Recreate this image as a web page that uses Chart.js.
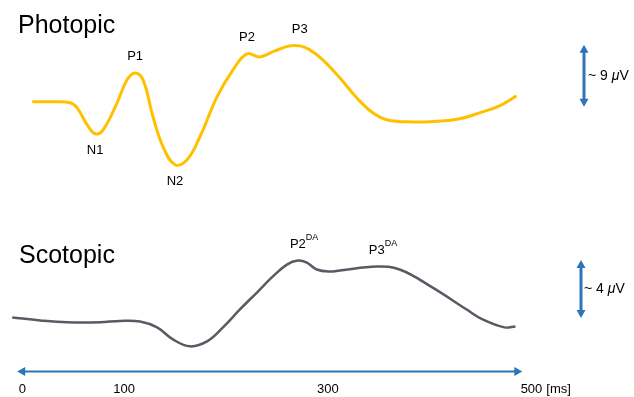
<!DOCTYPE html>
<html>
<head>
<meta charset="utf-8">
<script src="https://cdn.jsdelivr.net/npm/chart.js@4.4.1/dist/chart.umd.min.js"></script>
<style>
  html, body { margin: 0; padding: 0; background: #fff; }
</style>
</head>
<body>
<canvas id="ergChart" width="634" height="397"></canvas>
<script>
// photopic trace (ms, µV)
const photopicMs = [9.8, 30.4, 47.1, 53.9, 63.7, 71.6, 79.4, 93.1, 102.9, 110.8, 118.6, 128.4, 138.2, 150, 161.8,
  174.5, 191.2, 206.9, 220.6, 233.3, 248, 262.7, 272.5, 282.4, 295.1, 311.8, 328.4, 344.1, 357.8, 377.5, 400,
  429.4, 452, 468.6, 485.3];
const photopicUv = [0, 0, -0.14, -0.87, -3.33, -4.64, -4.06, -0.14, 3.19, 4.2, 3.19, -2.17, -6.52, -9.13, -8.41,
  -5.07, 0.72, 4.64, 6.96, 6.52, 7.39, 8.12, 8.12, 7.54, 6.09, 3.48, 0.58, -1.59, -2.61, -2.9, -2.9,
  -2.46, -1.45, -0.58, 0.87];

// scotopic trace (ms, µV)
const scotopicMs = [-9.8, 17.6, 44.1, 76.5, 96, 115.7, 132.4, 148, 164.7, 181.4, 197.1, 213.7, 230.4, 246.1, 259.8,
  270.6, 279.4, 289.2, 302, 311.8, 348, 370.6, 403, 436, 452, 473.5, 484.3];
const scotopicUv = [0.14, -0.07, -0.2, -0.2, -0.1, -0.14, -0.55, -1.38, -1.86, -1.52, -0.55, 0.69, 1.86, 2.97, 3.79,
  4.07, 3.93, 3.45, 3.31, 3.38, 3.66, 3.45, 2.2, 0.7, 0, -0.55, -0.48];

const timeTicks = [0, 100, 300, 500];
const timeArrowMs = [-5, 491];

const photopicPeaks = ['N1', 'P1', 'N2', 'P2', 'P3'];
const photopicPeakMs = [71.6, 110.8, 150, 220.6, 272.5];
const scotopicPeaks = ['P2', 'P3'];
const scotopicPeakMs = [270.6, 348];

const photopicBarUv = [-0.7, 8.3];
const scotopicBarUv = [0.1, 4.1];

const FONT = '"Liberation Sans", Arial, sans-serif';
const BLUE = '#2E75B6';
Chart.defaults.font.family = FONT;

function toPoints(xs, ys) {
  return xs.map((x, i) => ({ x: x, y: ys[i] }));
}

function nearestIndex(xs, v) {
  let best = 0;
  xs.forEach((x, i) => { if (Math.abs(x - v) < Math.abs(xs[best] - v)) best = i; });
  return best;
}

function arrowHead(ctx, x, y, ux, uy) {
  const len = 8, half = 4.5;
  ctx.beginPath();
  ctx.moveTo(x, y);
  ctx.lineTo(x - ux * len - uy * half, y - uy * len + ux * half);
  ctx.lineTo(x - ux * len + uy * half, y - uy * len - ux * half);
  ctx.closePath();
  ctx.fill();
}

function doubleArrow(ctx, x1, y1, x2, y2, width) {
  const d = Math.hypot(x2 - x1, y2 - y1), ux = (x2 - x1) / d, uy = (y2 - y1) / d;
  ctx.strokeStyle = BLUE;
  ctx.fillStyle = BLUE;
  ctx.lineWidth = width;
  ctx.beginPath();
  ctx.moveTo(x1 + ux * 6, y1 + uy * 6);
  ctx.lineTo(x2 - ux * 6, y2 - uy * 6);
  ctx.stroke();
  arrowHead(ctx, x1, y1, -ux, -uy);
  arrowHead(ctx, x2, y2, ux, uy);
}

function drawPeaks(ctx, xScale, yScale, names, times, xs, ys, sup) {
  names.forEach((name, k) => {
    const i = nearestIndex(xs, times[k]);
    const px = xScale.getPixelForValue(xs[i]);
    const py = yScale.getPixelForValue(ys[i]);
    const below = name[0] === 'N';
    const ty = below ? py + 17 : py - 16;
    ctx.fillStyle = '#000';
    ctx.font = '13px ' + FONT;
    ctx.textAlign = 'center';
    ctx.textBaseline = 'middle';
    ctx.fillText(name, px, ty);
    if (sup) {
      const w = ctx.measureText(name).width;
      ctx.font = '9px ' + FONT;
      ctx.textAlign = 'left';
      ctx.fillText(sup, px + w / 2, ty - 7);
    }
  });
}

function barLabel(ctx, x, y, num) {
  ctx.fillStyle = '#000';
  ctx.textBaseline = 'middle';
  ctx.textAlign = 'left';
  ctx.font = '14px ' + FONT;
  const a = '~ ' + num + ' ';
  ctx.fillText(a, x, y);
  let cx = x + ctx.measureText(a).width;
  ctx.font = 'italic 14px ' + FONT;
  ctx.fillText('\u03bc', cx, y);
  cx += ctx.measureText('\u03bc').width;
  ctx.font = '14px ' + FONT;
  ctx.fillText('V', cx, y);
}

const decor = {
  id: 'decor',
  afterDraw(chart) {
    const { ctx, chartArea, scales } = chart;
    const x = scales.x, yP = scales.yP, yS = scales.yS;
    ctx.save();

    ctx.fillStyle = '#000';
    ctx.textAlign = 'left';
    ctx.textBaseline = 'alphabetic';
    ctx.font = '25px ' + FONT;
    ctx.fillText('Photopic', 18, 33);
    ctx.fillText('Scotopic', 19, 263);

    drawPeaks(ctx, x, yP, photopicPeaks, photopicPeakMs, photopicMs, photopicUv, null);
    drawPeaks(ctx, x, yS, scotopicPeaks, scotopicPeakMs, scotopicMs, scotopicUv, 'DA');

    // time axis arrow
    const ay = chartArea.bottom;
    doubleArrow(ctx, x.getPixelForValue(timeArrowMs[0]), ay, x.getPixelForValue(timeArrowMs[1]), ay, 2);

    // "[ms]" after the last tick label
    ctx.font = '13px ' + FONT;
    const last = timeTicks[timeTicks.length - 1];
    const lx = x.getPixelForValue(last) + ctx.measureText(String(last)).width / 2 + 4;
    ctx.fillStyle = '#000';
    ctx.textAlign = 'left';
    ctx.textBaseline = 'middle';
    ctx.fillText('[ms]', lx, 389);

    // amplitude scale bars
    const p1 = yP.getPixelForValue(photopicBarUv[0]), p2 = yP.getPixelForValue(photopicBarUv[1]);
    doubleArrow(ctx, 584, p2, 584, p1, 3);
    barLabel(ctx, 588, (p1 + p2) / 2, Math.round(photopicBarUv[1] - photopicBarUv[0]));

    const s1 = yS.getPixelForValue(scotopicBarUv[0]), s2 = yS.getPixelForValue(scotopicBarUv[1]);
    doubleArrow(ctx, 581, s2, 581, s1, 3);
    barLabel(ctx, 584, (s1 + s2) / 2, Math.round(scotopicBarUv[1] - scotopicBarUv[0]));

    ctx.restore();
  }
};

new Chart(document.getElementById('ergChart').getContext('2d'), {
  type: 'line',
  data: {
    datasets: [
      {
        label: 'Photopic',
        data: toPoints(photopicMs, photopicUv),
        yAxisID: 'yP',
        borderColor: '#FFC000',
        borderWidth: 3,
        pointRadius: 0,
        tension: 0.4
      },
      {
        label: 'Scotopic',
        data: toPoints(scotopicMs, scotopicUv),
        yAxisID: 'yS',
        borderColor: '#5A5A64',
        borderWidth: 2.5,
        pointRadius: 0,
        tension: 0.4
      }
    ]
  },
  options: {
    responsive: false,
    animation: false,
    devicePixelRatio: 1,
    layout: { padding: { left: 8, right: 74, top: 0, bottom: -10 } },
    plugins: { legend: { display: false }, tooltip: { enabled: false } },
    scales: {
      x: {
        type: 'linear',
        min: -14,
        max: 528,
        afterBuildTicks: s => { s.ticks = timeTicks.map(v => ({ value: v })); },
        grid: { display: false, drawTicks: false },
        border: { display: false },
        ticks: { color: '#000', font: { size: 13 }, padding: 10, maxRotation: 0, autoSkip: false }
      },
      yP: { position: 'left', display: false, min: -39.13, max: 14.78 },
      yS: { position: 'left', display: false, min: -3.59, max: 22.07 }
    }
  },
  plugins: [decor]
});
</script>
</body>
</html>
